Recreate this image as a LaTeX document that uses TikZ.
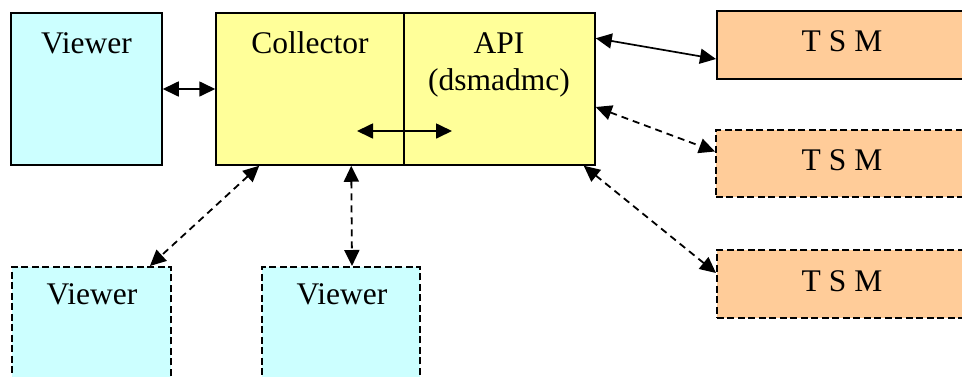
\documentclass[tikz,border=0pt]{standalone}
\usepackage{fontspec}
\setmainfont{Liberation Serif}
\usetikzlibrary{arrows.meta}
\definecolor{viewerfill}{HTML}{CCFFFF}
\definecolor{collfill}{HTML}{FFFF99}
\definecolor{tsmfill}{HTML}{FFCC99}
\begin{document}
\begin{tikzpicture}[x=1pt,y=-1pt,
  box/.style={draw=black,line width=1.5pt,rectangle,inner sep=0pt},
  dashedbox/.style={box,line width=1.8pt,dash pattern=on 7pt off 3.5pt},
  lbl/.style={font=\fontsize{31.5}{36}\selectfont,anchor=base,inner sep=0pt},
  link/.style={line width=1.7pt,{Triangle[length=16pt,width=15pt]}-{Triangle[length=16pt,width=15pt]}},
  dlink/.style={link,line width=1.8pt,dash pattern=on 7pt off 5pt}]
\useasboundingbox (0,0) rectangle (962,376);
\clip (0,0) rectangle (962,376);
% boxes
\node[box,fill=viewerfill,minimum width=151pt,minimum height=152pt] (v1) at (86.5,89) {};
\node[box,fill=collfill,minimum width=379pt,minimum height=152pt] (coll) at (405.5,89) {};
\draw[line width=1.5pt] (404,13) coordinate (divt) -- (404,165) coordinate (divb);
\node[box,fill=tsmfill,minimum width=300pt,minimum height=68pt,anchor=west] (t1) at (716,45) {};
\node[dashedbox,fill=tsmfill,minimum width=300pt,minimum height=67pt,anchor=west] (t2) at (715,163.5) {};
\node[dashedbox,fill=tsmfill,minimum width=300pt,minimum height=68pt,anchor=west] (t3) at (716,284) {};
\node[dashedbox,fill=viewerfill,minimum width=159pt,minimum height=160pt,anchor=north] (v2) at (91.5,266) {};
\node[dashedbox,fill=viewerfill,minimum width=158pt,minimum height=160pt,anchor=north] (v3) at (341,266) {};
% labels
\node[lbl] (v1l) at (86.5,53) {Viewer};
\node[lbl] (colll) at (310,53) {Collector};
\node[lbl] (apil) at (499,53) {API};
\node[lbl] (dsml) at (499,90) {(dsmadmc)};
\node[lbl] (t1l) at (842,51) {T S M};
\node[lbl] (t2l) at (842,170) {T S M};
\node[lbl] (t3l) at (842,291) {T S M};
\node[lbl] (v2l) at (92,304) {Viewer};
\node[lbl] (v3l) at (342,304) {Viewer};
% connectors
\draw[link] (v1.east) -- (coll.west |- v1.east);
\coordinate (ia) at (357,131);
\coordinate (ib) at (452,131);
\draw[link] (ia) -- (ib);
\draw[link] ([yshift=-26pt]coll.north east) -- ([yshift=-14pt]t1.west);
\draw[dlink] ([yshift=-18pt]coll.east) -- ([yshift=12pt]t2.west);
\draw[dlink] ([xshift=-12pt]coll.south east) -- ([yshift=11pt]t3.west);
\draw[dlink] ([xshift=44pt]coll.south west) -- ([xshift=-22pt]v2.north east);
\draw[dlink] ([xshift=136pt]coll.south west) -- ([xshift=11pt]v3.north);
\end{tikzpicture}
\end{document}
